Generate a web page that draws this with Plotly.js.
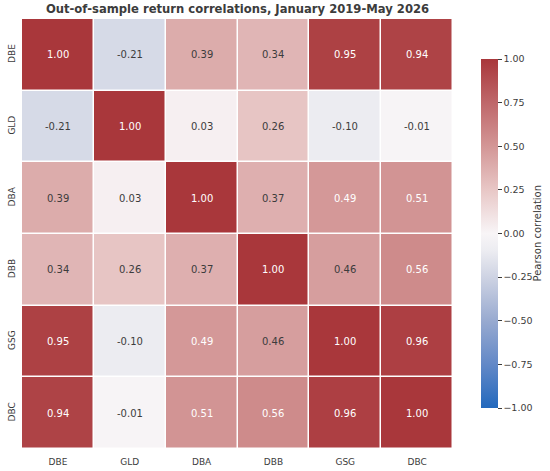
<!DOCTYPE html>
<html>
<head>
<meta charset="utf-8">
<script src="https://cdn.plot.ly/plotly-3.0.1.min.js"></script>
<style>html,body{margin:0;padding:0;background:#fff;}#chart{width:550px;height:471px;}</style>
</head>
<body>
<div id="chart"></div>
<script>
var tickers = ["DBE", "GLD", "DBA", "DBB", "GSG", "DBC"];
var rowDBE = [1.00, -0.21, 0.39, 0.34, 0.95, 0.94];
var rowGLD = [-0.21, 1.00, 0.03, 0.26, -0.10, -0.01];
var rowDBA = [0.39, 0.03, 1.00, 0.37, 0.49, 0.51];
var rowDBB = [0.34, 0.26, 0.37, 1.00, 0.46, 0.56];
var rowGSG = [0.95, -0.10, 0.49, 0.46, 1.00, 0.96];
var rowDBC = [0.94, -0.01, 0.51, 0.56, 0.96, 1.00];
var colorbarTicks = [-1, -0.75, -0.5, -0.25, 0, 0.25, 0.5, 0.75, 1];

var z = [rowDBE, rowGLD, rowDBA, rowDBB, rowGSG, rowDBC];

var stops = [
  [0.0, [35,105,189]],
  [0.125, [98,136,199]],
  [0.25, [152,170,208]],
  [0.375, [206,211,227]],
  [0.45, [236,236,241]],
  [0.5, [248,245,247]],
  [0.625, [232,199,198]],
  [0.75, [211,150,150]],
  [0.875, [191,103,106]],
  [1.0, [169,55,59]]
];
var colorscale = stops.map(function(s){return [s[0], 'rgb(' + s[1].join(',') + ')'];});

function colorAt(v){
  var t = (v + 1) / 2;
  for (var i = 1; i < stops.length; i++){
    if (t <= stops[i][0]){
      var a = stops[i-1], b = stops[i];
      var f = (t - a[0]) / (b[0] - a[0]);
      return [0,1,2].map(function(k){return a[1][k] + f*(b[1][k]-a[1][k]);});
    }
  }
  return stops[stops.length-1][1];
}
function lum(c){
  var r = c.map(function(x){x/=255; return x <= 0.03928 ? x/12.92 : Math.pow((x+0.055)/1.055, 2.4);});
  return 0.2126*r[0] + 0.7152*r[1] + 0.0722*r[2];
}

var annotations = [];
for (var i = 0; i < z.length; i++){
  for (var j = 0; j < z[i].length; j++){
    var v = z[i][j];
    var L = lum(colorAt(v));
    annotations.push({
      x: tickers[j], y: tickers[i], xref: 'x', yref: 'y',
      text: v.toFixed(2),
      showarrow: false,
      font: {family: 'DejaVu Sans', size: 10, color: L > 0.408 ? 'rgb(60,60,60)' : '#ffffff'}
    });
  }
}
// colorbar label
annotations.push({
  xref: 'paper', yref: 'paper',
  x: (537 - 22) / 431, y: (449 - 233.5) / 430,
  xanchor: 'center', yanchor: 'middle', showarrow: false,
  textangle: -90,
  text: 'Pearson correlation',
  font: {family: 'DejaVu Sans', size: 10, color: 'rgb(60,60,60)'}
});

var trace = {
  type: 'heatmap',
  z: z, x: tickers, y: tickers,
  zmin: -1, zmax: 1,
  colorscale: colorscale,
  xgap: 1.5, ygap: 1.5,
  hoverinfo: 'none',
  colorbar: {
    x: (481 - 22) / 431, xref: 'paper', xanchor: 'left', xpad: 0,
    y: (449 - 59) / 430, yref: 'paper', yanchor: 'top', ypad: 0,
    len: 349, lenmode: 'pixels',
    thickness: 17, thicknessmode: 'pixels',
    outlinewidth: 0,
    tickmode: 'array', tickvals: colorbarTicks,
    tickformat: '.2f',
    ticks: 'outside', ticklen: 4, tickwidth: 1, tickcolor: 'rgb(60,60,60)',
    tickfont: {family: 'DejaVu Sans', size: 9.5, color: 'rgb(60,60,60)'}
  }
};

var layout = {
  width: 550, height: 471,
  margin: {l: 22, r: 97, t: 19, b: 22, pad: 0},
  paper_bgcolor: '#ffffff', plot_bgcolor: '#ffffff',
  showlegend: false,
  title: {
    text: '<b>Out-of-sample return correlations, January 2019-May 2026</b>',
    xref: 'paper', x: 0.5, xanchor: 'center',
    yref: 'container', y: 1 - 9/471, yanchor: 'middle',
    font: {family: 'DejaVu Sans', size: 11.6, color: 'rgb(60,60,60)'}
  },
  xaxis: {showgrid: false, zeroline: false, showline: false, ticks: '', ticklen: 0,
          ticklabelstandoff: 6,
          tickfont: {family: 'DejaVu Sans', size: 9, color: 'rgb(60,60,60)'}, automargin: false},
  yaxis: {showgrid: false, zeroline: false, showline: false, ticks: '', ticklen: 0, autorange: 'reversed',
          tickangle: -90, ticklabelstandoff: 4,
          tickfont: {family: 'DejaVu Sans', size: 9, color: 'rgb(60,60,60)'}, automargin: false},
  annotations: annotations
};

Plotly.newPlot('chart', [trace], layout, {displayModeBar: false, staticPlot: true});
</script>
</body>
</html>
